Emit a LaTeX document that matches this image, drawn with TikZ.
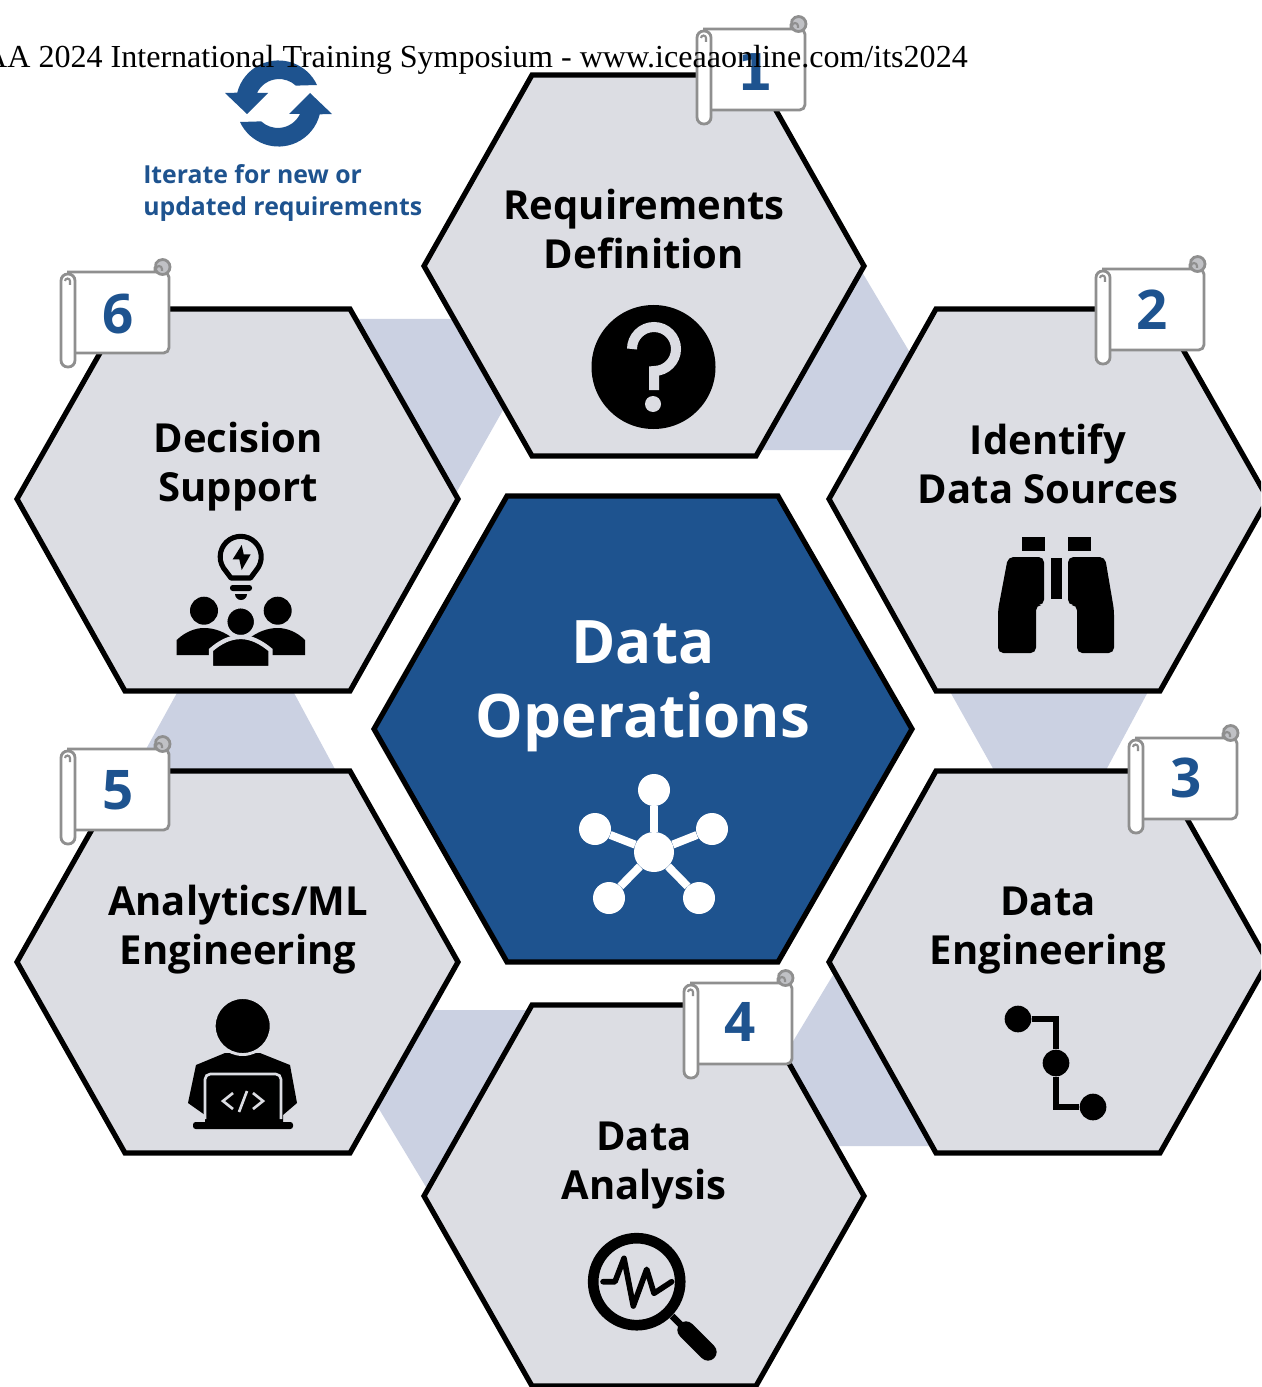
\documentclass[tikz,border=0pt]{standalone}
\usepackage{fontspec}
\setmainfont{Liberation Serif}
\newfontfamily\hexfont{Open Sans}
\newfontfamily\stepfont{DejaVu Sans}
\definecolor{hexgray}{HTML}{DCDDE3}
\definecolor{bandblue}{HTML}{CBD1E2}
\definecolor{deepblue}{HTML}{1E538F}
\definecolor{scrollgray}{HTML}{8F8F8F}
\tikzset{
  hexcell/.style={draw=black, fill=hexgray, line width=3.9pt, line join=miter},
  band/.style={fill=bandblue},
  hexlabel/.style={font=\hexfont\bfseries\fontsize{30}{36.75}\selectfont, align=center, inner sep=0pt},
  steplabel/.style={font=\hexfont\bfseries\fontsize{41}{41}\selectfont, text=deepblue, inner sep=0pt},
  scrollline/.style={draw=scrollgray, line width=2.1pt, fill=white},
  spoke/.style={draw=white, line width=6pt},
  pipe/.style={draw=black, line width=5.2pt},
  hubdot/.style={circle, fill=white, inner sep=0pt, minimum size=24pt},
  pipedot/.style={circle, fill=black, inner sep=0pt, minimum size=20pt},
  scrollflag/.pic={
    \draw [scrollline, rounded corners=4pt] (6,0) -- (108,0) -- (108,81) -- (10,81);
    \draw [scrollline, rounded corners=5pt] (0,2) rectangle (14,95);
    \draw [scrollline, line width=1.6pt, fill=none] (9,13) -- (9,9) arc[start angle=0, end angle=-180, radius=2.5];
    \draw [scrollline, fill=hexgray!70!gray] (94,0) -- (94,-5) arc[start angle=180, end angle=-150, radius=7.5] -- cycle;
    \draw [scrollline, line width=1.6pt, fill=none] (101,-1) -- (101,-3) arc[start angle=0, end angle=-180, radius=3];
  }
}
\begin{document}
\begin{tikzpicture}[x=0.75pt,y=-0.75pt]
\useasboundingbox (0,0) rectangle (1261,1387);
\clip (0,0) rectangle (1261,1387);
% bands behind the cells
\fill [band] (862,272) -- (925,378) -- (870,450) -- (750,450) -- (840,290) -- cycle;
\fill [band] (948,688) -- (1150,688) -- (1105,772) -- (995,772) -- cycle;
\fill [band] (833,975) -- (940,1146) -- (838,1146) -- (780,1063) -- cycle;
\fill [band] (420,1010) -- (532,1010) -- (432,1197) -- (370,1094) -- cycle;
\fill [band] (178,691) -- (293,691) -- (336,771) -- (134,771) -- cycle;
\fill [band] (352,319) -- (460,319) -- (520,380) -- (455,495) -- cycle;
% cells
\draw [hexcell] (424,266) -- (532,75) -- (756,75) -- (864,266) -- (756,456) -- (532,456) -- cycle;
\draw [hexcell] (829,499) -- (936,309) -- (1160,309) -- (1268,499) -- (1160,691) -- (936,691) -- cycle;
\draw [hexcell] (829,962) -- (936,771) -- (1160,771) -- (1268,962) -- (1160,1153) -- (936,1153) -- cycle;
\draw [hexcell] (424,1196) -- (532,1005) -- (756,1005) -- (864,1196) -- (756,1386) -- (532,1386) -- cycle;
\draw [hexcell] (17,962) -- (125,771) -- (350,771) -- (458,962) -- (350,1153) -- (125,1153) -- cycle;
\draw [hexcell] (17,499) -- (125,309) -- (350,309) -- (458,499) -- (350,691) -- (125,691) -- cycle;
\draw [hexcell, fill=deepblue] (374,729) -- (507,496) -- (778,496) -- (912,729) -- (778,962) -- (507,962) -- cycle;
% labels
\node (reqlabel) [hexlabel] at (644,229) {Requirements\\Definition};
\node (sourcelabel) [hexlabel] at (1048,464) {Identify\\Data Sources};
\node (englabel) [hexlabel] at (1048,931) {Data\\Engineering};
\node (analysislabel) [hexlabel] at (644,1166) {Data\\Analysis};
\node (mllabel) [hexlabel] at (238,930) {Analytics/ML\\Engineering};
\node (decisionlabel) [hexlabel] at (238,467) {Decision\\Support};
\node (opslabel) [hexlabel, text=white, font=\hexfont\bfseries\fontsize{45}{55.5}\selectfont] at (643,686) {Data\\Operations};
% question mark
\fill [black] (653.5,367) circle [radius=62];
\draw [hexgray, line width=7.5pt] (632,349) arc[start angle=180, end angle=450, radius=22] -- (654,390);
\fill [hexgray] (653,404) circle [radius=8];
% binoculars
\fill [black] (1022,537) rectangle (1045,551);
\fill [black] (1068,537) rectangle (1091,551);
\fill [black] (1051,558) rectangle (1062,599);
\fill [black, rounded corners=4pt] (1008,557) -- (1044,557) -- (1044,605) -- (1036,605) -- (1036,653) -- (998,653) -- (998,610) -- cycle;
\fill [black, rounded corners=4pt] (1105,557) -- (1068,557) -- (1068,605) -- (1077,605) -- (1077,653) -- (1114,653) -- (1114,610) -- cycle;
% pipeline
\node (pipetop) [pipedot] at (1018,1019) {};
\node (pipemid) [pipedot] at (1056,1063) {};
\node (pipeend) [pipedot] at (1093,1107) {};
\draw [pipe] (pipetop) -| (pipemid);
\draw [pipe] (pipemid) |- (pipeend);
% magnifier
\draw [black, line width=8pt] (636.7,1281.7) circle [radius=43.5];
\draw [black, line width=4.2pt, line join=round, line cap=round] (603,1281.7) -- (615,1281.7) -- (624,1258.3) -- (633.3,1306) -- (646.7,1269.3) -- (654,1293.3) -- (671.7,1281.7);
\draw [black, line width=5pt] (672,1316) -- (686,1330);
\draw [black, line width=13pt, line cap=round] (686,1330) -- (708,1352);
% coder
\fill [black] (188,1103) -- (196,1065) -- (225,1053) -- (260,1053) -- (290,1065) -- (297,1103) -- (283,1115) -- (283,1122) -- (205,1122) -- (205,1115) -- cycle;
\draw [hexgray, line width=2.2pt, fill=black] (242.7,1026) circle [radius=28.5];
\draw [hexgray, line width=2pt, rounded corners=4pt] (205,1119) -- (205,1074) -- (281,1074) -- (281,1119);
\fill [black, rounded corners=2pt] (193,1122) rectangle (293,1129);
\draw [hexgray, line width=2pt] (233,1093) -- (223,1101) -- (233,1109);
\draw [hexgray, line width=2pt] (253,1093) -- (263,1101) -- (253,1109);
\draw [hexgray, line width=2pt] (247,1091) -- (239,1112);
% people and bulb
\draw [black, line width=3.8pt, line join=round] (231,578) -- (223.5,568) arc[start angle=147, end angle=393, radius=20.5] -- (250.5,578) -- cycle;
\fill [black] (241.7,545) -- (232.7,559.3) -- (239.3,559.3) -- (241.7,570) -- (250.7,554.3) -- (243.7,554.3) -- cycle;
\fill [black, rounded corners=2pt] (230,585) rectangle (252,591);
\fill [black] (235,594) -- (247,594) arc[start angle=0, end angle=180, radius=6] -- cycle;
\fill [black] (204,610.7) circle [radius=14];
\fill [black] (277.7,610.7) circle [radius=14];
\fill [black] (176.7,655) -- (176.7,640) .. controls (185,632) and (195,628) .. (204,628) .. controls (215,628) and (225,632) .. (235,640) -- (235,655) -- cycle;
\fill [black] (305,655) -- (305,640) .. controls (297,632) and (287,628) .. (277.7,628) .. controls (267,628) and (257,632) .. (247,640) -- (247,655) -- cycle;
\draw [hexgray, line width=2.6pt, fill=black] (240.7,621.7) circle [radius=15];
\draw [hexgray, line width=3.2pt, fill=black] (211,668) -- (211,650) .. controls (220,642) and (230,637) .. (240.7,637) .. controls (251,637) and (261,642) .. (270.5,650) -- (270.5,668) -- cycle;
\fill [hexgray] (205,666.5) rectangle (276,670);
% refresh icon
\foreach \turn in {0,180} {
\fill [deepblue, rotate around={\turn:(278.5,103.5)}] (317,85) arc[start angle=-25, end angle=-166, radius=42.5] -- (225,93) -- (247,114) -- (268,93) -- (257,93) arc[start angle=-154.5, end angle=-47, radius=24.5] -- cycle;
}
\node (iteratelabel) [anchor=west, align=left, inner sep=0pt, text=deepblue, font=\hexfont\bfseries\fontsize{18.6}{24}\selectfont] at (143,193) {Iterate for new or\\updated requirements};
% hub icon
\node (hubcore) [hubdot, minimum size=30pt] at (654,852) {};
\node (hubtop) [hubdot] at (654,790) {};
\node (hubleft) [hubdot] at (595,829) {};
\node (hubright) [hubdot] at (712,829) {};
\node (hublow) [hubdot] at (609,898) {};
\node (hubhigh) [hubdot] at (699,898) {};
\draw [spoke] (hubcore) -- (hubtop);
\draw [spoke] (hubcore) -- (hubleft);
\draw [spoke] (hubcore) -- (hubright);
\draw [spoke] (hubcore) -- (hublow);
\draw [spoke] (hubcore) -- (hubhigh);
% numbered scrolls
\pic at (697,29) {scrollflag};
\pic at (1096,269) {scrollflag};
\pic at (1129,738) {scrollflag};
\pic at (684,983) {scrollflag};
\pic at (61,749) {scrollflag};
\pic at (61,272) {scrollflag};
\node (stepone) [steplabel, font=\stepfont\bfseries\fontsize{38}{38}\selectfont] at (755,72) {1};
\node (steptwo) [steplabel] at (1152,310) {2};
\node (stepthree) [steplabel] at (1186,778) {3};
\node (stepfour) [steplabel] at (740,1022) {4};
\node (stepfive) [steplabel] at (118.5,790) {5};
\node (stepsix) [steplabel] at (118.5,314) {6};
% title on top of everything
\node (titleline) [anchor=base east, inner sep=0pt, font=\fontsize{24.05}{28}\selectfont] at (968,68) {AA 2024 International Training Symposium - www.iceaaonline.com/its2024};
\end{tikzpicture}
\end{document}
